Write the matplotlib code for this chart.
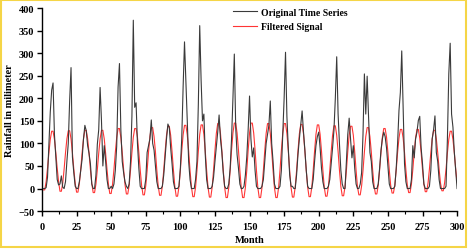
import matplotlib
matplotlib.use("Agg")
import matplotlib.pyplot as plt
from matplotlib.patches import Rectangle
from matplotlib.ticker import MultipleLocator

plt.rcParams['font.family'] = ['Liberation Serif', 'DejaVu Serif']
plt.rcParams['font.weight'] = 'bold'

# months 1..300
months = list(range(1, 301))

# monthly rainfall (mm)
rainfall = [
    0, 0, 2, 25, 95, 170, 218, 234, 120, 70, 20, 8,
    10, 28, 3, 0, 15, 60, 100, 195, 268, 70, 35, 5,
    0, 0, 15, 40, 65, 110, 140, 128, 95, 78, 55, 10,
    0, 0, 30, 98, 130, 224, 150, 50, 95, 60, 20, 0,
    0, 5, 0, 10, 40, 94, 225, 277, 130, 60, 35, 15,
    5, 0, 10, 60, 160, 373, 180, 190, 100, 45, 5, 0,
    0, 0, 20, 80, 95, 110, 152, 100, 85, 50, 15, 0,
    0, 0, 5, 30, 70, 110, 143, 135, 90, 55, 15, 0,
    0, 0, 5, 45, 110, 225, 325, 240, 150, 60, 20, 0,
    0, 0, 20, 60, 187, 361, 240, 150, 165, 75, 20, 0,
    0, 0, 5, 25, 60, 92, 125, 163, 110, 80, 35, 5,
    0, 0, 10, 45, 110, 200, 298, 136, 75, 45, 10, 0,
    0, 5, 30, 70, 130, 205, 110, 70, 90, 40, 5, 0,
    0, 0, 5, 20, 60, 100, 120, 140, 194, 100, 60, 10,
    0, 0, 0, 5, 40, 120, 200, 302, 160, 90, 30, 5,
    5, 0, 0, 30, 75, 110, 140, 172, 125, 85, 40, 5,
    0, 0, 0, 20, 60, 95, 115, 125, 90, 45, 15, 0,
    0, 0, 5, 20, 55, 90, 129, 200, 292, 165, 98, 40,
    10, 0, 0, 60, 120, 156, 110, 68, 95, 45, 10, 0,
    0, 10, 35, 120, 254, 165, 249, 160, 80, 60, 15, 0,
    0, 0, 10, 45, 85, 110, 125, 115, 90, 50, 10, 0,
    0, 0, 5, 45, 100, 173, 213, 305, 175, 55, 15, 0,
    0, 0, 20, 95, 68, 110, 125, 151, 160, 90, 55, 10,
    0, 0, 0, 5, 40, 110, 130, 161, 80, 60, 20, 0,
    0, 0, 0, 5, 110, 254, 322, 165, 136, 80, 40, 0,
]

# filtered signal
filtered = [
    -3, -3, 15, 45, 79, 109, 127, 127, 109, 79, 45, 15,
    -6, -6, 12, 43, 79, 110, 128, 128, 110, 79, 43, 12,
    -8, -8, 11, 42, 79, 110, 129, 129, 110, 79, 42, 11,
    -9, -9, 10, 42, 78, 110, 129, 129, 110, 78, 42, 10,
    -11, -11, 9, 42, 80, 113, 133, 133, 113, 80, 42, 9,
    -12, -12, 7, 41, 80, 114, 133, 133, 114, 80, 41, 7,
    -14, -14, 6, 40, 81, 115, 135, 135, 115, 81, 40, 6,
    -15, -15, 5, 41, 82, 118, 138, 138, 118, 82, 41, 5,
    -17, -17, 4, 40, 83, 119, 140, 140, 119, 83, 40, 4,
    -18, -18, 3, 40, 83, 120, 141, 141, 120, 83, 40, 3,
    -19, -19, 3, 41, 84, 122, 144, 144, 122, 84, 41, 3,
    -20, -20, 2, 40, 85, 123, 145, 145, 123, 85, 40, 2,
    -20, -20, 2, 40, 85, 123, 145, 145, 123, 85, 40, 2,
    -20, -20, 2, 40, 84, 122, 144, 144, 122, 84, 40, 2,
    -20, -20, 2, 40, 84, 122, 144, 144, 122, 84, 40, 2,
    -19, -19, 3, 40, 83, 121, 142, 142, 121, 83, 40, 3,
    -18, -18, 3, 40, 83, 120, 141, 141, 120, 83, 40, 3,
    -17, -17, 4, 40, 82, 118, 139, 139, 118, 82, 40, 4,
    -16, -16, 4, 40, 82, 118, 138, 138, 118, 82, 40, 4,
    -14, -14, 6, 40, 81, 115, 135, 135, 115, 81, 40, 6,
    -12, -12, 7, 41, 80, 114, 133, 133, 114, 80, 41, 7,
    -10, -10, 8, 41, 80, 112, 131, 131, 112, 80, 41, 8,
    -9, -9, 10, 42, 80, 112, 131, 131, 112, 80, 42, 10,
    -7, -7, 12, 43, 79, 110, 129, 129, 110, 79, 43, 12,
    -5, -5, 13, 43, 79, 109, 127, 127, 109, 79, 43, 13,
]

fig = plt.figure(figsize=(4.68, 2.51), dpi=100)
ax = fig.add_axes([0.0897, 0.155, 0.887, 0.809])

ax.plot(months, rainfall, color='#3a3a3a', linewidth=0.8, label='Original Time Series', zorder=3)
ax.plot(months, filtered, color='#ff3535', linewidth=0.8, label='Filtered Signal', zorder=2)

ax.set_xlim(0, 300)
ax.set_ylim(-50, 400)
ax.xaxis.set_major_locator(MultipleLocator(25))
ax.xaxis.set_minor_locator(MultipleLocator(12.5))
ax.yaxis.set_major_locator(MultipleLocator(50))

for s in ['top', 'right']:
    ax.spines[s].set_visible(False)
for s in ['left', 'bottom']:
    ax.spines[s].set_linewidth(1.0)
ax.tick_params(axis='both', which='major', direction='out', length=3.5, width=1, labelsize=7.5)
ax.tick_params(axis='x', which='major', pad=4)
ax.tick_params(axis='y', which='major', pad=2)
ax.tick_params(axis='x', which='minor', direction='out', length=2, width=0.8)

ax.set_xlabel('Month', fontsize=7.5, fontweight='bold', labelpad=3)
ax.set_ylabel('Rainfall in milimeter', fontsize=7.5, fontweight='bold', labelpad=3)

ax.legend(loc='upper left', bbox_to_anchor=(0.45, 1.02), frameon=False, fontsize=7,
          handlelength=2.5, handletextpad=0.4, labelspacing=0.55, borderaxespad=0)

# yellow frame around the figure
fig.patches.append(Rectangle((0.003, 0.01), 0.992, 0.985, transform=fig.transFigure,
                             fill=False, edgecolor='#f5d547', linewidth=1.5))

fig.savefig('out.png', dpi=100)
